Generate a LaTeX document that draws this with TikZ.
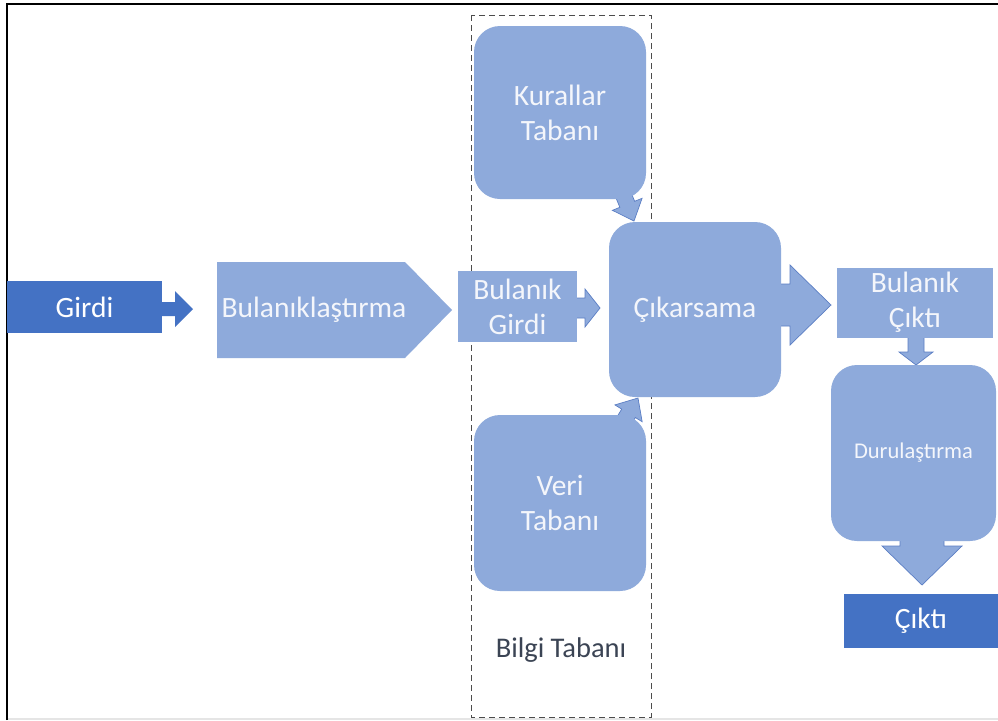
\documentclass[tikz,border=0pt]{standalone}
\usepackage{fontspec}
\setmainfont{Carlito}
\usetikzlibrary{calc}
\definecolor{lb}{HTML}{8EAADB}
\definecolor{db}{HTML}{4472C4}
\definecolor{ol}{HTML}{5B7EC4}
\definecolor{tw}{HTML}{F4F6FB}
\definecolor{tg}{HTML}{3B4454}
\newcommand\blkarrow[6]{%
  \filldraw[#1] let \p1=(#2), \p2=(#3), \n1={atan2(\y2-\y1,\x2-\x1)}, \n2={veclen(\x2-\x1,\y2-\y1)-#6} in
    ($(\p1)+(\n1+90:#4pt)$) -- ($(\p1)+(\n1:\n2)+(\n1+90:#4pt)$) -- ($(\p1)+(\n1:\n2)+(\n1+90:#5pt)$) -- (\p2)
    -- ($(\p1)+(\n1:\n2)+(\n1-90:#5pt)$) -- ($(\p1)+(\n1:\n2)+(\n1-90:#4pt)$) -- ($(\p1)+(\n1-90:#4pt)$) -- cycle;}
\begin{document}
\begin{tikzpicture}[x=1pt,y=-1pt,
  bigfont/.style={font=\fontsize{29.5}{35}\selectfont},
  lbox/.style={fill=lb, draw=none, text=tw, align=center, inner sep=0pt, bigfont},
  rbox/.style={lbox, rounded corners=26pt},
  dbox/.style={fill=db, draw=none, text=white, align=center, inner sep=0pt, bigfont},
  larr/.style={fill=lb, draw=ol, line width=0.7pt, line join=miter},
  darr/.style={fill=db, draw=none},
  kbframe/.style={draw=black!70, dashed, dash pattern=on 6pt off 4pt, line width=0.9pt}]
\useasboundingbox (0,0) rectangle (998,720);
\fill[white] (0,0) rectangle (998,720);
% outer frame
\draw[black!10, line width=2pt] (7,719) -- (998,719);
\draw[black, line width=2pt] (7,720) -- (7,4) -- (998,4);
% knowledge base frame
\draw[kbframe] (471,15) rectangle (651,717);
\node[text=tg, font=\fontsize{28.5}{34}\selectfont] (bilgi) at (561,650) {Bilgi Tabanı};
% coordinates for arrows
\coordinate (a1s) at (161,309); \coordinate (a1e) at (193,309);
\coordinate (a2s) at (576,308); \coordinate (a2e) at (600,308);
\coordinate (a3s) at (619,184); \coordinate (a3e) at (634,221);
\coordinate (a4s) at (617,432); \coordinate (a4e) at (638,398);
\coordinate (a5s) at (780,305); \coordinate (a5e) at (831,305);
\coordinate (a6s) at (916,336); \coordinate (a6e) at (916,365);
\coordinate (a7s) at (922,540); \coordinate (a7e) at (922,585);
% arrows
\blkarrow{darr}{a1s}{a1e}{7}{18}{18}
\blkarrow{larr}{a2s}{a2e}{10}{19}{15}
\blkarrow{larr}{a3s}{a3e}{8}{16}{18}
\blkarrow{larr}{a4s}{a4e}{8}{16}{18}
\blkarrow{larr}{a5s}{a5e}{21}{40}{41}
\blkarrow{larr}{a6s}{a6e}{8}{17}{13}
\blkarrow{larr}{a7s}{a7e}{22}{40}{39}
% boxes
\node[dbox, minimum width=155pt, minimum height=52pt] (girdi) at (84.5,307) {Girdi};
\fill[lb] (217,262) -- (405,262) -- (452,310) -- (405,358) -- (217,358) -- cycle;
\node[text=tw, bigfont] (bul) at (314,310) {Bulanıklaştırma};
\node[lbox, minimum width=119pt, minimum height=71pt] (bgirdi) at (517.5,306.5) {Bulanık\\Girdi};
\node[rbox, minimum width=172pt, minimum height=173pt] (kural) at (560,112.5) {Kurallar\\Tabanı};
\node[rbox, minimum width=172pt, minimum height=176pt] (veri) at (560,503) {Veri\\Tabanı};
\node[rbox, minimum width=172pt, minimum height=175pt] (cik) at (695,309.5) {Çıkarsama};
\node[lbox, minimum width=156pt, minimum height=70pt] (bcikti) at (915,302.5) {Bulanık\\Çıktı};
\node[rbox, minimum width=165pt, minimum height=176pt, font=\fontsize{22.5}{27}\selectfont] (dur) at (913.5,453) {Durulaştırma};
\node[dbox, minimum width=154pt, minimum height=54pt] (cikti) at (921,621) {Çıktı};
\end{tikzpicture}
\end{document}
